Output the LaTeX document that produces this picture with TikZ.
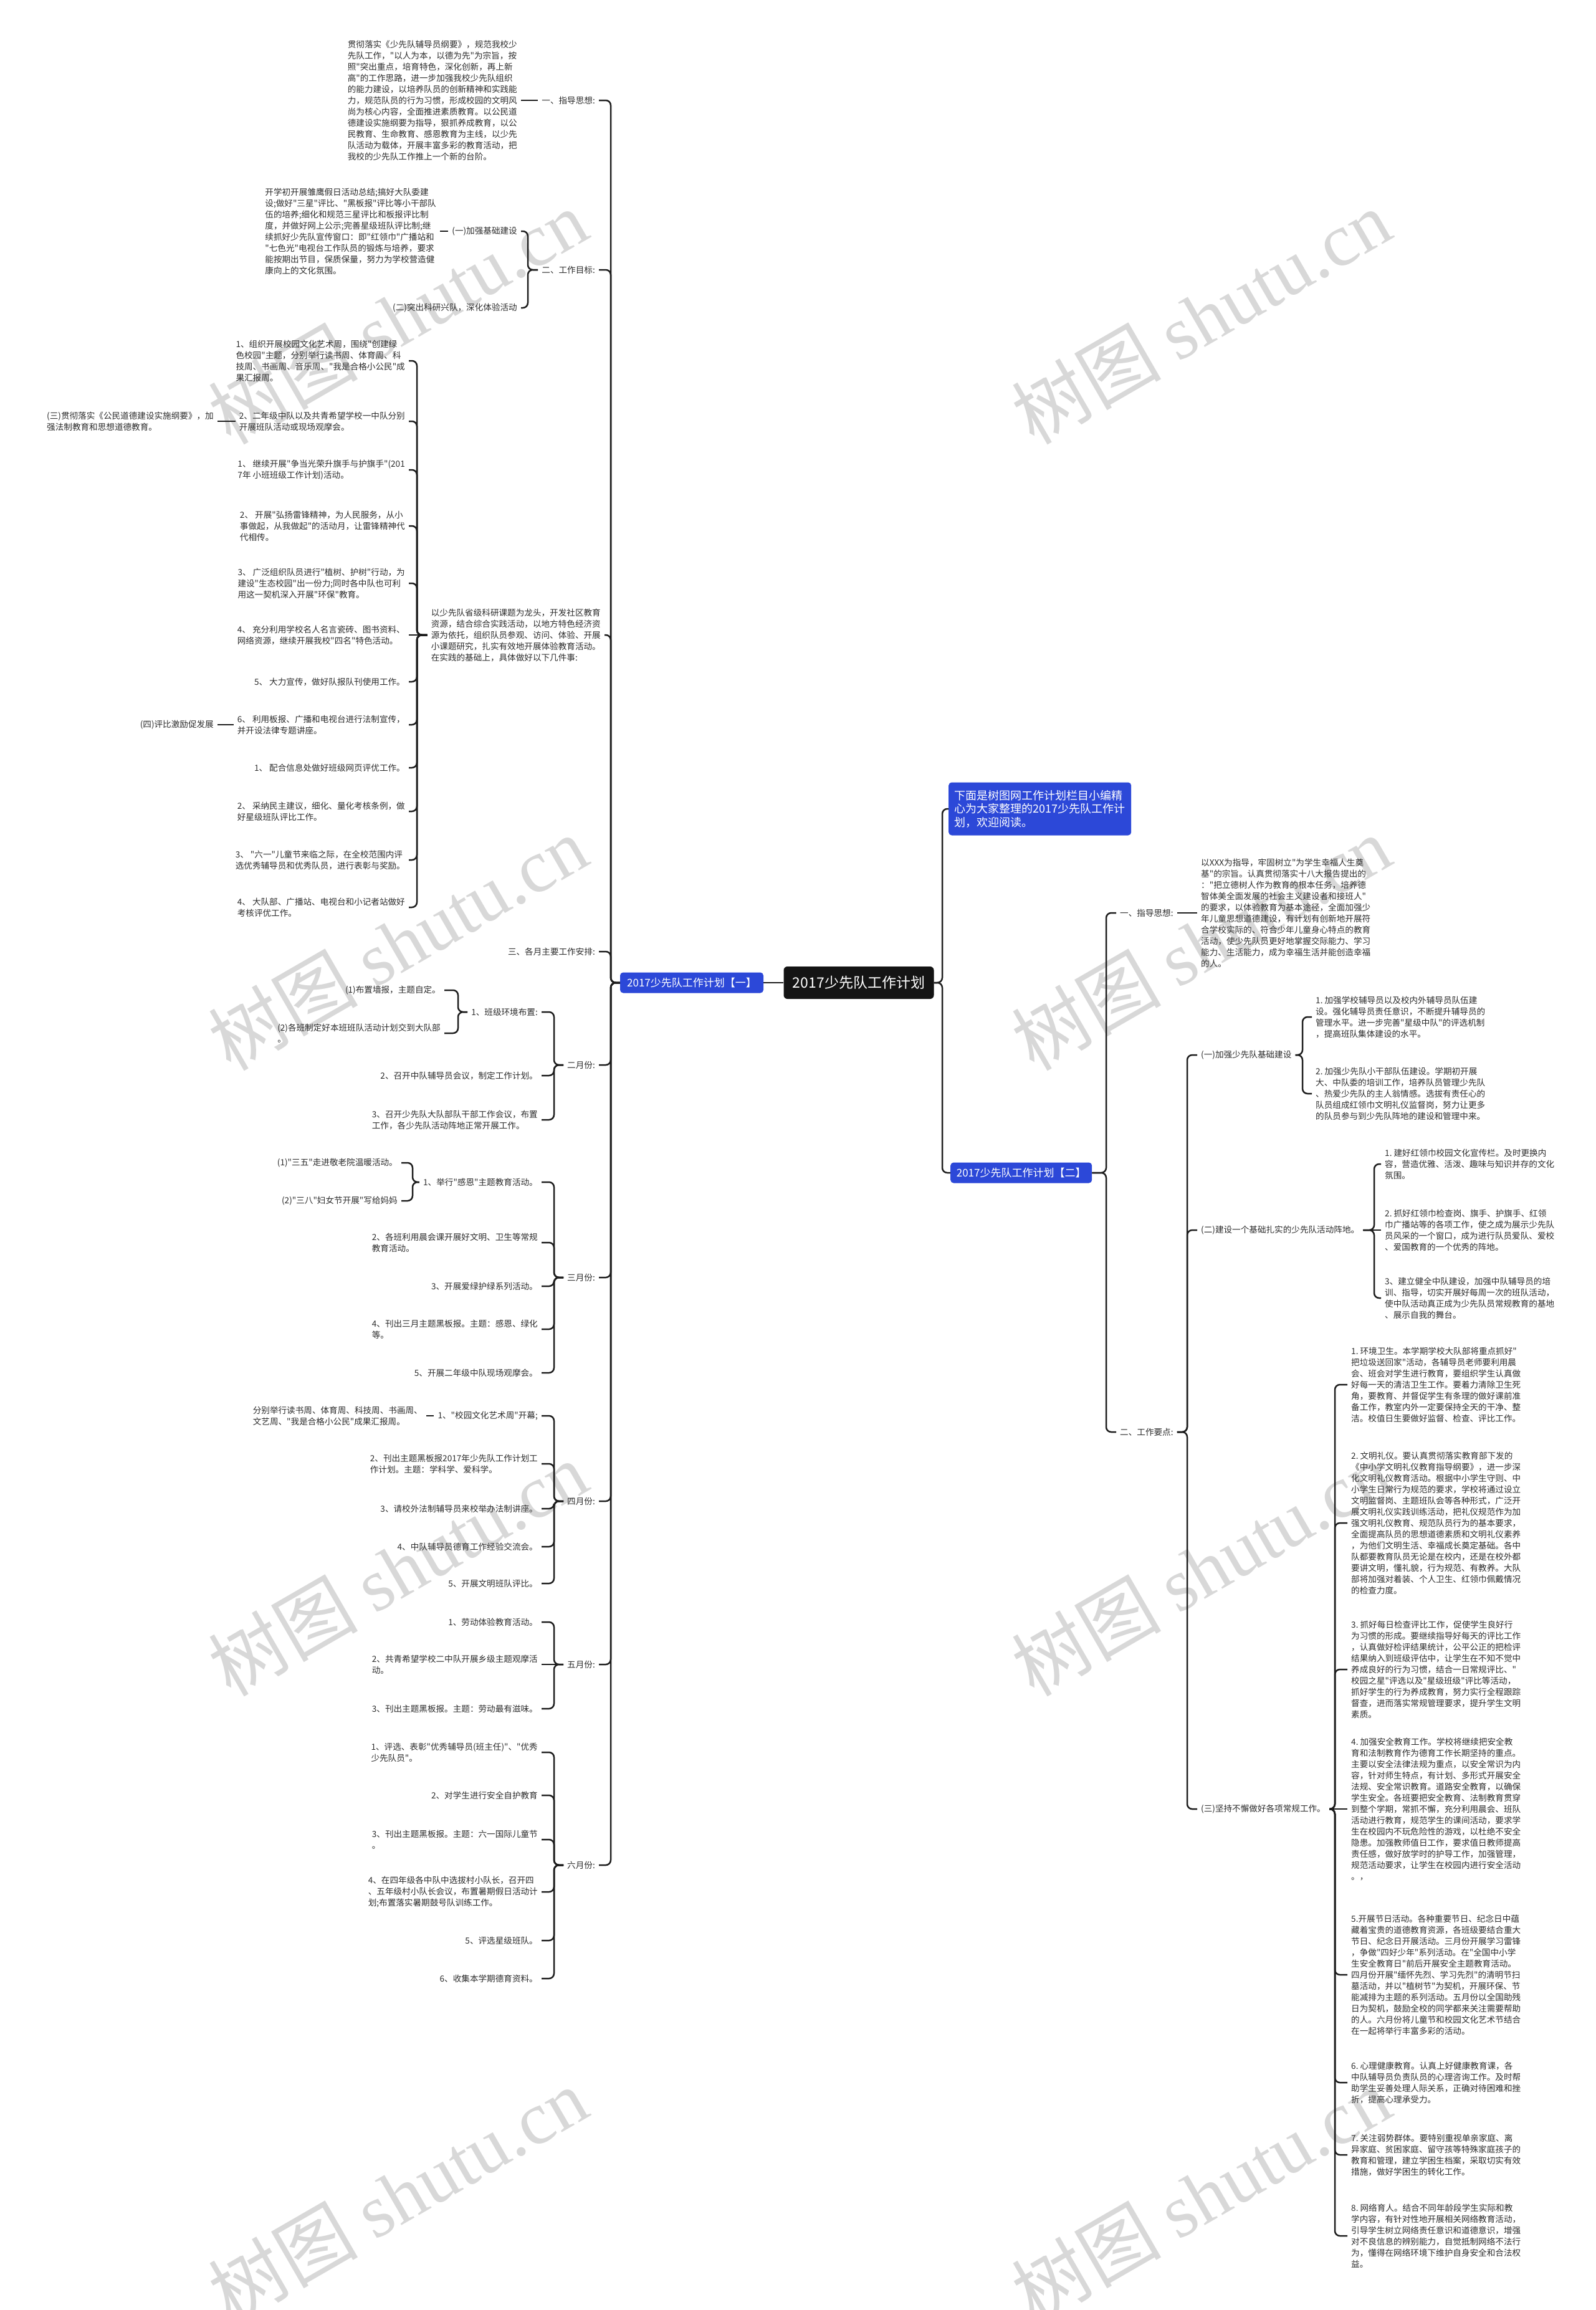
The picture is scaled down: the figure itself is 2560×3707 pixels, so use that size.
\documentclass[tikz,border=0pt]{standalone}
\usepackage{fontspec}
\setmainfont{Noto Sans CJK SC}
\newfontfamily\cjk{Noto Sans CJK SC}
\newfontfamily\wmserif{Liberation Serif}
\definecolor{txt}{RGB}{45,45,45}
\definecolor{ln}{RGB}{30,30,30}
\definecolor{bluebox}{RGB}{44,72,216}
\definecolor{wmc}{RGB}{216,216,216}
\newcommand\lconn[3]{\draw[conn] (#1.west) -- (#1.west -| #2) |- (#3.east);}
\newcommand\rconn[3]{\draw[conn] (#1.east) -- (#1.east -| #2) |- (#3.west);}
\begin{document}
\frenchspacing
\begin{tikzpicture}[x=1pt,y=-1pt,
  conn/.style={draw=ln,line width=2.5pt,rounded corners=8pt},
  tx/.style={font=\cjk\fontsize{13.6}{18}\selectfont,text=txt,inner xsep=6pt,inner ysep=3pt,align=left},
  lt/.style={tx,anchor=east},
  rt/.style={tx,anchor=west},
  bbox/.style={fill=bluebox,text=white,rounded corners=5pt,font=\cjk\fontsize{17}{20}\selectfont,inner sep=0pt},
  wm/.style={text=wmc,rotate=30,font=\cjk\fontsize{120}{130}\selectfont}]
\fill[white] (0,0) rectangle (2560,3707);
\useasboundingbox (0,0) rectangle (2560,3707);
% watermarks
\foreach \x/\y in {638/508,1927/508,638/1513,1927/1513,638/2517,1927/2517,638/3522,1927/3522}
  \node[wm] (wm-\x-\y) at (\x,\y) {树图 {\wmserif shutu.cn}};
% coordinates of brackets
\coordinate (sL) at (980,0);
\coordinate (bL2) at (847,0);
\coordinate (bP3) at (669,0);
\coordinate (bM) at (889,0);
\coordinate (bB1) at (735,0);
\coordinate (bC1) at (662,0);
\coordinate (sR0) at (1512,0);
\coordinate (sR) at (1775,0);
\coordinate (bR2) at (1905,0);
\coordinate (bS1) at (2090,0);
\coordinate (bS2) at (2205,0);
\coordinate (bS3) at (2142,0);
% central
\node[fill=black!92,text=white,rounded corners=6pt,minimum width=241pt,minimum height=52pt,inner sep=0pt,font=\cjk\fontsize{23}{26}\selectfont] (root) at (1378,1577) {2017少先队工作计划};
\node[bbox,minimum width=230pt,minimum height=33pt] (B1) at (1110,1577) {2017少先队工作计划【一】};
\node[bbox,anchor=west,minimum width=293pt,minimum height=85pt,align=left,font=\cjk\fontsize{18}{21.5}\selectfont] (BI) at (1522,1298) {下面是树图网工作计划栏目小编精\\心为大家整理的2017少先队工作计\\划，欢迎阅读。};
\node[bbox,anchor=west,minimum width=227pt,minimum height=33pt] (B2) at (1525,1882) {2017少先队工作计划【二】};
% ---------------- LEFT ----------------
\node[lt] (Ll1) at (961,161) {一、指导思想:};
\node[lt] (Lp1) at (836,161) {贯彻落实《少先队辅导员纲要》，规范我校少\\先队工作，"以人为本，以德为先"为宗旨，按\\照"突出重点，培育特色，深化创新，再上新\\高"的工作思路，进一步加强我校少先队组织\\的能力建设，以培养队员的创新精神和实践能\\力，规范队员的行为习惯，形成校园的文明风\\尚为核心内容，全面推进素质教育。以公民道\\德建设实施纲要为指导，狠抓养成教育，以公\\民教育、生命教育、感恩教育为主线，以少先\\队活动为载体，开展丰富多彩的教育活动，把\\我校的少先队工作推上一个新的台阶。};
\node[lt] (Ll2) at (961,433) {二、工作目标:};
\node[lt] (Lg1) at (836,371) {(一)加强基础建设};
\node[lt] (Lg2) at (836,494) {(二)突出科研兴队，深化体验活动};
\node[lt] (Lp2) at (706,371) {开学初开展雏鹰假日活动总结;搞好大队委建\\设;做好"三星"评比、"黑板报"评比等小干部队\\伍的培养;细化和规范三星评比和板报评比制\\度，并做好网上公示;完善星级班队评比制;继\\续抓好少先队宣传窗口：即"红领巾"广播站和\\"七色光"电视台工作队员的锻炼与培养，要求\\能按期出节目，保质保量，努力为学校营造健\\康向上的文化氛围。};
\node[lt] (Ll3) at (970,1019) {以少先队省级科研课题为龙头，开发社区教育\\资源，结合综合实践活动，以地方特色经济资\\源为依托，组织队员参观、访问、体验、开展\\小课题研究，扎实有效地开展体验教育活动。\\在实践的基础上，具体做好以下几件事:};
\node[lt] (a1) at (656,579) {1、组织开展校园文化艺术周，围绕"创建绿\\色校园"主题，分别举行读书周、体育周、科\\技周、书画周、音乐周、"我是合格小公民"成\\果汇报周。};
\node[lt] (a2) at (656,676) {2、二年级中队以及共青希望学校一中队分别\\开展班队活动或现场观摩会。};
\node[lt] (a2c) at (349,676) {(三)贯彻落实《公民道德建设实施纲要》，加\\强法制教育和思想道德教育。};
\node[lt] (a3) at (656,754) {1、 继续开展"争当光荣升旗手与护旗手"(201\\7年 小班班级工作计划)活动。};
\node[lt] (a4) at (656,844) {2、 开展"弘扬雷锋精神，为人民服务，从小\\事做起，从我做起"的活动月，让雷锋精神代\\代相传。};
\node[lt] (a5) at (656,936) {3、 广泛组织队员进行"植树、护树"行动，为\\建设"生态校园"出一份力;同时各中队也可利\\用这一契机深入开展"环保"教育。};
\node[lt] (a6) at (656,1019) {4、 充分利用学校名人名言瓷砖、图书资料、\\网络资源，继续开展我校"四名"特色活动。};
\node[lt] (a7) at (656,1094) {5、 大力宣传，做好队报队刊使用工作。};
\node[lt] (a8) at (656,1163) {6、 利用板报、广播和电视台进行法制宣传，\\并开设法律专题讲座。};
\node[lt] (a8c) at (349,1163) {(四)评比激励促发展};
\node[lt] (a9) at (656,1232) {1、 配合信息处做好班级网页评优工作。};
\node[lt] (a10) at (656,1302) {2、 采纳民主建议，细化、量化考核条例，做\\好星级班队评比工作。};
\node[lt] (a11) at (656,1380) {3、 "六一"儿童节来临之际，在全校范围内评\\选优秀辅导员和优秀队员，进行表彰与奖励。};
\node[lt] (a12) at (656,1456) {4、 大队部、广播站、电视台和小记者站做好\\考核评优工作。};
\node[lt] (Ll4) at (961,1527) {三、各月主要工作安排:};
% Feb
\node[lt] (m2) at (961,1709) {二月份:};
\node[lt] (b1) at (869,1624) {1、班级环境布置:};
\node[lt] (b1a) at (713,1589) {(1)布置墙报，主题自定。};
\node[lt] (b1b) at (713,1658) {(2)各班制定好本班班队活动计划交到大队部\\。};
\node[lt] (b2) at (869,1726) {2、召开中队辅导员会议，制定工作计划。};
\node[lt] (b3) at (869,1797) {3、召开少先队大队部队干部工作会议，布置\\工作，各少先队活动阵地正常开展工作。};
% Mar
\node[lt] (m3) at (961,2050) {三月份:};
\node[lt] (c1) at (869,1897) {1、举行"感恩"主题教育活动。};
\node[lt] (c1a) at (644,1866) {(1)"三五"走进敬老院温暖活动。};
\node[lt] (c1b) at (644,1927) {(2)"三八"妇女节开展"写给妈妈};
\node[lt] (c2) at (869,1994) {2、各班利用晨会课开展好文明、卫生等常规\\教育活动。};
\node[lt] (c3) at (869,2064) {3、开展爱绿护绿系列活动。};
\node[lt] (c4) at (869,2133) {4、刊出三月主题黑板报。主题：感恩、绿化\\等。};
\node[lt] (c5) at (869,2203) {5、开展二年级中队现场观摩会。};
% Apr
\node[lt] (m4) at (961,2409) {四月份:};
\node[lt] (d1) at (869,2272) {1、"校园文化艺术周"开幕;};
\node[lt] (d1a) at (684,2272) {分别举行读书周、体育周、科技周、书画周、\\文艺周、"我是合格小公民"成果汇报周。};
\node[lt] (d2) at (869,2349) {2、刊出主题黑板报2017年少先队工作计划工\\作计划。主题：学科学、爱科学。};
\node[lt] (d3) at (869,2421) {3、请校外法制辅导员来校举办法制讲座。};
\node[lt] (d4) at (869,2482) {4、中队辅导员德育工作经验交流会。};
\node[lt] (d5) at (869,2541) {5、开展文明班队评比。};
% May
\node[lt] (m5) at (961,2671) {五月份:};
\node[lt] (e1) at (869,2603) {1、劳动体验教育活动。};
\node[lt] (e2) at (869,2671) {2、共青希望学校二中队开展乡级主题观摩活\\动。};
\node[lt] (e3) at (869,2742) {3、刊出主题黑板报。主题：劳动最有滋味。};
% Jun
\node[lt] (m6) at (961,2993) {六月份:};
\node[lt] (f1) at (869,2812) {1、评选、表彰"优秀辅导员(班主任)"、"优秀\\少先队员"。};
\node[lt] (f2) at (869,2881) {2、对学生进行安全自护教育};
\node[lt] (f3) at (869,2952) {3、刊出主题黑板报。主题：六一国际儿童节\\。};
\node[lt] (f4) at (869,3036) {4、在四年级各中队中选拔村小队长，召开四\\、五年级村小队长会议，布置暑期假日活动计\\划;布置落实暑期鼓号队训练工作。};
\node[lt] (f5) at (869,3114) {5、评选星级班队。};
\node[lt] (f6) at (869,3175) {6、收集本学期德育资料。};
% ---------------- RIGHT ----------------
\node[rt] (R1) at (1791,1465) {一、指导思想:};
\node[rt] (rp) at (1921,1465) {以XXX为指导，牢固树立"为学生幸福人生奠\\基"的宗旨。认真贯彻落实十八大报告提出的\\："把立德树人作为教育的根本任务，培养德\\智体美全面发展的社会主义建设者和接班人"\\的要求，以体验教育为基本途径，全面加强少\\年儿童思想道德建设，有计划有创新地开展符\\合学校实际的、符合少年儿童身心特点的教育\\活动，使少先队员更好地掌握交际能力、学习\\能力、生活能力，成为幸福生活并能创造幸福\\的人。};
\node[rt] (R2) at (1791,2298) {二、工作要点:};
\node[rt] (S1) at (1921,1693) {(一)加强少先队基础建设};
\node[rt] (S2) at (1921,1974) {(二)建设一个基础扎实的少先队活动阵地。};
\node[rt] (S3) at (1921,2903) {(三)坚持不懈做好各项常规工作。};
\node[rt] (g1) at (2105,1632) {1. 加强学校辅导员以及校内外辅导员队伍建\\设。强化辅导员责任意识，不断提升辅导员的\\管理水平。进一步完善"星级中队"的评选机制\\，提高班队集体建设的水平。};
\node[rt] (g2) at (2105,1755) {2. 加强少先队小干部队伍建设。学期初开展\\大、中队委的培训工作，培养队员管理少先队\\、热爱少先队的主人翁情感。选拔有责任心的\\队员组成红领巾文明礼仪监督岗，努力让更多\\的队员参与到少先队阵地的建设和管理中来。};
\node[rt] (h1) at (2216,1868) {1. 建好红领巾校园文化宣传栏。及时更换内\\容，营造优雅、活泼、趣味与知识并存的文化\\氛围。};
\node[rt] (h2) at (2216,1974) {2. 抓好红领巾检查岗、旗手、护旗手、红领\\巾广播站等的各项工作，使之成为展示少先队\\员风采的一个窗口，成为进行队员爱队、爱校\\、爱国教育的一个优秀的阵地。};
\node[rt] (h3) at (2216,2083) {3、建立健全中队建设，加强中队辅导员的培\\训、指导，切实开展好每周一次的班队活动，\\使中队活动真正成为少先队员常规教育的基地\\、展示自我的舞台。};
\node[rt] (i1) at (2162,2222) {1. 环境卫生。本学期学校大队部将重点抓好"\\把垃圾送回家"活动，各辅导员老师要利用晨\\会、班会对学生进行教育，要组织学生认真做\\好每一天的清洁卫生工作。要着力清除卫生死\\角，要教育、并督促学生有条理的做好课前准\\备工作，教室内外一定要保持全天的干净、整\\洁。校值日生要做好监督、检查、评比工作。};
\node[rt] (i2) at (2162,2444) {2. 文明礼仪。要认真贯彻落实教育部下发的\\《中小学文明礼仪教育指导纲要》，进一步深\\化文明礼仪教育活动。根据中小学生守则、中\\小学生日常行为规范的要求，学校将通过设立\\文明监督岗、主题班队会等各种形式，广泛开\\展文明礼仪实践训练活动，把礼仪规范作为加\\强文明礼仪教育、规范队员行为的基本要求，\\全面提高队员的思想道德素质和文明礼仪素养\\，为他们文明生活、幸福成长奠定基础。各中\\队都要教育队员无论是在校内，还是在校外都\\要讲文明，懂礼貌，行为规范、有教养。大队\\部将加强对着装、个人卫生、红领巾佩戴情况\\的检查力度。};
\node[rt] (i3) at (2162,2679) {3. 抓好每日检查评比工作，促使学生良好行\\为习惯的形成。要继续指导好每天的评比工作\\，认真做好检评结果统计，公平公正的把检评\\结果纳入到班级评估中，让学生在不知不觉中\\养成良好的行为习惯，结合一日常规评比、"\\校园之星"评选以及"星级班级"评比等活动，\\抓好学生的行为养成教育，努力实行全程跟踪\\督查，进而落实常规管理要求，提升学生文明\\素质。};
\node[rt] (i4) at (2162,2903) {4. 加强安全教育工作。学校将继续把安全教\\育和法制教育作为德育工作长期坚持的重点。\\主要以安全法律法规为重点，以安全常识为内\\容，针对师生特点，有计划、多形式开展安全\\法规、安全常识教育。道路安全教育，以确保\\学生安全。各班要把安全教育、法制教育贯穿\\到整个学期，常抓不懈，充分利用晨会、班队\\活动进行教育，规范学生的课间活动，要求学\\生在校园内不玩危险性的游戏，以杜绝不安全\\隐患。加强教师值日工作，要求值日教师提高\\责任感，做好放学时的护导工作，加强管理，\\规范活动要求，让学生在校园内进行安全活动\\。，};
\node[rt] (i5) at (2162,3169) {5.开展节日活动。各种重要节日、纪念日中蕴\\藏着宝贵的道德教育资源，各班级要结合重大\\节日、纪念日开展活动。三月份开展学习雷锋\\，争做"四好少年"系列活动。在"全国中小学\\生安全教育日"前后开展安全主题教育活动。\\四月份开展"缅怀先烈、学习先烈"的清明节扫\\墓活动，并以"植树节"为契机，开展环保、节\\能减排为主题的系列活动。五月份以全国助残\\日为契机，鼓励全校的同学都来关注需要帮助\\的人。六月份将儿童节和校园文化艺术节结合\\在一起将举行丰富多彩的活动。};
\node[rt] (i6) at (2162,3342) {6. 心理健康教育。认真上好健康教育课，各\\中队辅导员负责队员的心理咨询工作。及时帮\\助学生妥善处理人际关系，正确对待困难和挫\\折，提高心理承受力。};
\node[rt] (i7) at (2162,3458) {7. 关注弱势群体。要特别重视单亲家庭、离\\异家庭、贫困家庭、留守孩等特殊家庭孩子的\\教育和管理，建立学困生档案，采取切实有效\\措施，做好学困生的转化工作。};
\node[rt] (i8) at (2162,3588) {8. 网络育人。结合不同年龄段学生实际和教\\学内容，有针对性地开展相关网络教育活动，\\引导学生树立网络责任意识和道德意识，增强\\对不良信息的辨别能力，自觉抵制网络不法行\\为，懂得在网络环境下维护自身安全和合法权\\益。};
% ---------------- CONNECTORS ----------------
\draw[conn] (root.west) -- (B1.east);
\rconn{root}{sR0}{BI}
\rconn{root}{sR0}{B2}
\foreach \c in {Ll1,Ll2,Ll3,Ll4,m2,m3,m4,m5,m6} {\lconn{B1}{sL}{\c}}
\draw[conn] (Ll1.west) -- (Lp1.east);
\lconn{Ll2}{bL2}{Lg1}
\lconn{Ll2}{bL2}{Lg2}
\draw[conn] (Lg1.west) -- (Lp2.east);
\foreach \c in {a1,a2,a3,a4,a5,a7,a8,a9,a10,a11,a12} {\lconn{Ll3}{bP3}{\c}}
\draw[conn] (Ll3.west) -- (a6.east);
\draw[conn] (a2.west) -- (a2c.east);
\draw[conn] (a8.west) -- (a8c.east);
\foreach \c in {b1,b2,b3} {\lconn{m2}{bM}{\c}}
\lconn{b1}{bB1}{b1a}
\lconn{b1}{bB1}{b1b}
\foreach \c in {c1,c2,c3,c4,c5} {\lconn{m3}{bM}{\c}}
\lconn{c1}{bC1}{c1a}
\lconn{c1}{bC1}{c1b}
\foreach \c in {d1,d2,d3,d4,d5} {\lconn{m4}{bM}{\c}}
\draw[conn] (d1.west) -- (d1a.east);
\lconn{m5}{bM}{e1}
\lconn{m5}{bM}{e3}
\draw[conn] (m5.west) -- (e2.east);
\foreach \c in {f1,f2,f3,f4,f5,f6} {\lconn{m6}{bM}{\c}}
\rconn{B2}{sR}{R1}
\rconn{B2}{sR}{R2}
\draw[conn] (R1.east) -- (rp.west);
\foreach \c in {S1,S2,S3} {\rconn{R2}{bR2}{\c}}
\rconn{S1}{bS1}{g1}
\rconn{S1}{bS1}{g2}
\rconn{S2}{bS2}{h1}
\draw[conn] (S2.east) -- (h2.west);
\rconn{S2}{bS2}{h3}
\foreach \c in {i1,i2,i3,i5,i6,i7,i8} {\rconn{S3}{bS3}{\c}}
\draw[conn] (S3.east) -- (i4.west);
\end{tikzpicture}
\end{document}
